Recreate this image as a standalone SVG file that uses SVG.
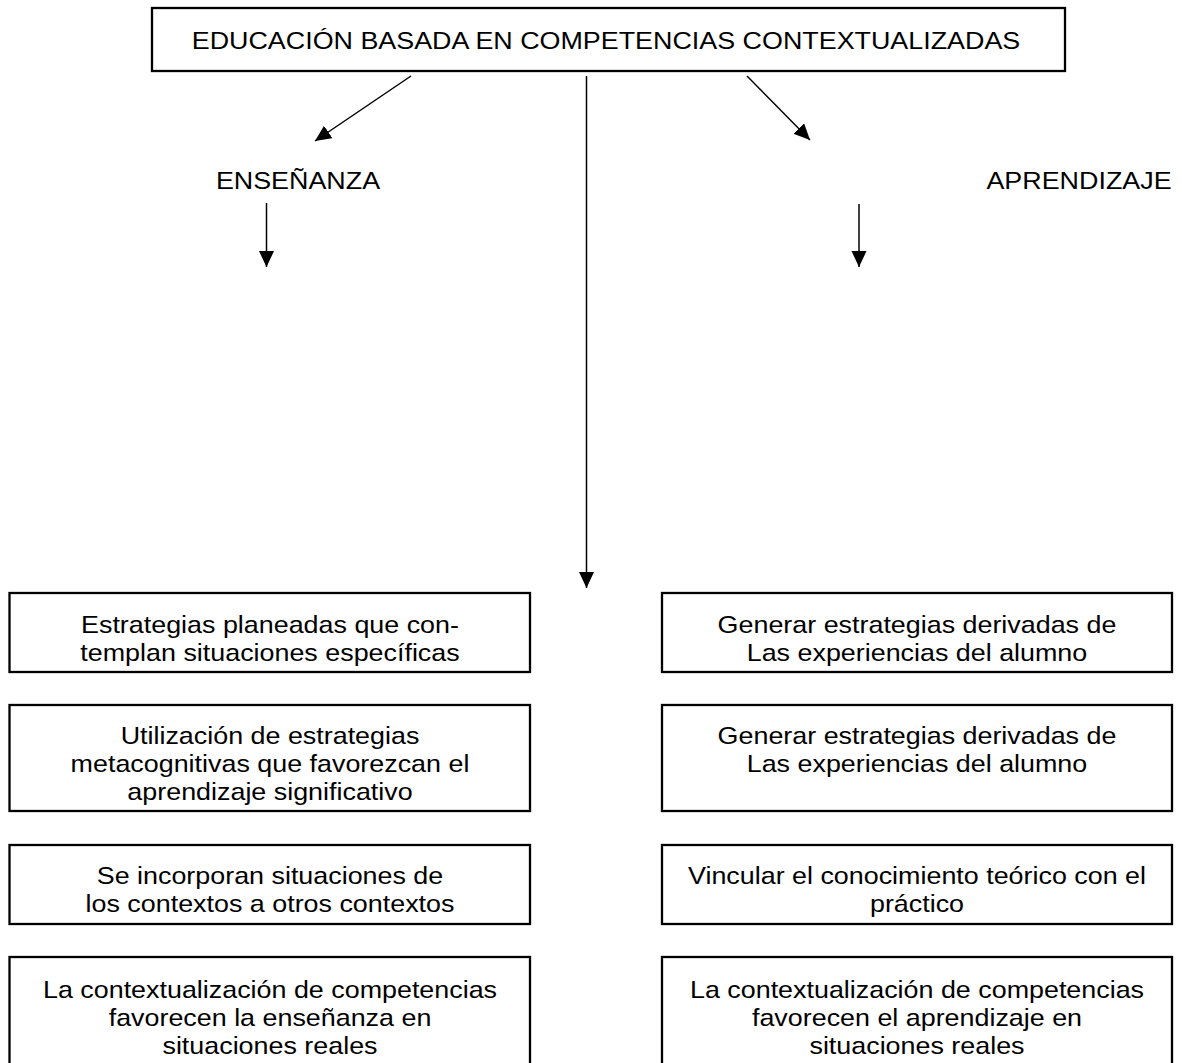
<svg xmlns="http://www.w3.org/2000/svg" width="1182" height="1063" viewBox="0 0 1182 1063">
<style>
.box{fill:#fff;stroke:#000;stroke-width:2.3}
.t{font-family:"Liberation Sans",Arial,sans-serif;font-size:24px;text-anchor:middle;fill:#000}
.c{stroke:#000;stroke-width:1.5;fill:none;marker-end:url(#ah)}
</style>
<defs>
<marker id="ah" markerUnits="userSpaceOnUse" markerWidth="17" markerHeight="16" refX="16" refY="7.5" orient="auto">
<path d="M0,0 L16,7.5 L0,15 z" fill="#000"/>
</marker>
</defs>
<rect width="1182" height="1063" fill="#fff"/>
<g id="connectors">
<line class="c" x1="411" y1="76" x2="315" y2="141"/>
<line class="c" x1="586.5" y1="76" x2="586.5" y2="588"/>
<line class="c" x1="747" y1="76" x2="810" y2="140"/>
<line class="c" x1="266.5" y1="203" x2="266.5" y2="267"/>
<line class="c" x1="859" y1="204" x2="859" y2="267"/>
</g>
<g id="title">
<rect class="box" x="152" y="8" width="913" height="63"/>
<text class="t" transform="translate(606 0) scale(1.12 1)" x="0" y="49">EDUCACIÓN BASADA EN COMPETENCIAS CONTEXTUALIZADAS</text>
</g>
<g id="ensenanza">
<text class="t" transform="translate(298 0) scale(1.12 1)" x="0" y="189">ENSEÑANZA</text>
</g>
<g id="aprendizaje">
<text class="t" transform="translate(1079 0) scale(1.12 1)" x="0" y="189">APRENDIZAJE</text>
</g>
<g id="l1">
<rect class="box" x="9.5" y="593" width="520.5" height="79"/>
<g transform="translate(270 0) scale(1.12 1)"><text class="t" x="0" y="633">Estrategias planeadas que con-</text><text class="t" x="0" y="661">templan situaciones específicas</text></g>
</g>
<g id="l2">
<rect class="box" x="9.5" y="705" width="520.5" height="106"/>
<g transform="translate(270 0) scale(1.12 1)"><text class="t" x="0" y="744">Utilización de estrategias</text><text class="t" x="0" y="772">metacognitivas que favorezcan el</text><text class="t" x="0" y="800">aprendizaje significativo</text></g>
</g>
<g id="l3">
<rect class="box" x="9.5" y="845" width="520.5" height="79"/>
<g transform="translate(270 0) scale(1.12 1)"><text class="t" x="0" y="884">Se incorporan situaciones de</text><text class="t" x="0" y="912">los contextos a otros contextos</text></g>
</g>
<g id="l4">
<rect class="box" x="9.5" y="957" width="520.5" height="110"/>
<g transform="translate(270 0) scale(1.12 1)"><text class="t" x="0" y="998">La contextualización de competencias</text><text class="t" x="0" y="1026">favorecen la enseñanza en</text><text class="t" x="0" y="1054">situaciones reales</text></g>
</g>
<g id="r1">
<rect class="box" x="662" y="593" width="510" height="79"/>
<g transform="translate(917 0) scale(1.12 1)"><text class="t" x="0" y="633">Generar estrategias derivadas de</text><text class="t" x="0" y="661">Las experiencias del alumno</text></g>
</g>
<g id="r2">
<rect class="box" x="662" y="705" width="510" height="106"/>
<g transform="translate(917 0) scale(1.12 1)"><text class="t" x="0" y="744">Generar estrategias derivadas de</text><text class="t" x="0" y="772">Las experiencias del alumno</text></g>
</g>
<g id="r3">
<rect class="box" x="662" y="845" width="510" height="79"/>
<g transform="translate(917 0) scale(1.12 1)"><text class="t" x="0" y="884">Vincular el conocimiento teórico con el</text><text class="t" x="0" y="912">práctico</text></g>
</g>
<g id="r4">
<rect class="box" x="662" y="957" width="510" height="110"/>
<g transform="translate(917 0) scale(1.12 1)"><text class="t" x="0" y="998">La contextualización de competencias</text><text class="t" x="0" y="1026">favorecen el aprendizaje en</text><text class="t" x="0" y="1054">situaciones reales</text></g>
</g>
</svg>
